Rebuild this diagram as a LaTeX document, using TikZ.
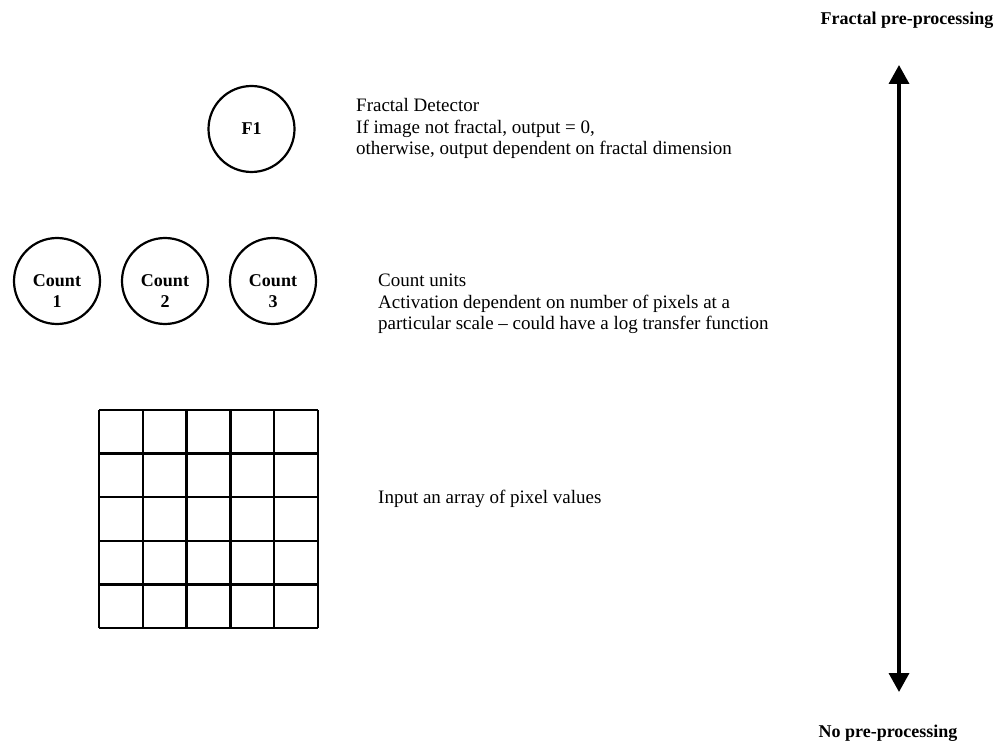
\documentclass[tikz,border=0pt]{standalone}
\usepackage{fontspec}
\setmainfont{Liberation Serif}
\usetikzlibrary{arrows.meta}
\tikzset{>={Triangle[width=20pt,length=19pt]},every node/.style={font=\fontsize{19}{21.5}\selectfont},
unit/.style={draw,circle,line width=2.2pt,minimum size=86pt,inner sep=0pt},
bold/.style={font=\fontsize{18}{21.5}\selectfont\bfseries,align=center},
note/.style={anchor=base west,align=left,inner sep=0pt},prescale/.style={line width=3.5pt,<->}}

\begin{document}
\begin{tikzpicture}[x=1pt,y=-1pt]
\useasboundingbox (0,0) rectangle (996,743);
% units
\node[unit,bold] (f1) at (251.5,129){F1};
\foreach \n/\x in {1/57,2/165,3/273}{\node[unit] (count\n) at (\x,281){};
\node[bold,yshift=-10pt] (countlabel\n) at (count\n){Count\\\n};}
% input array
\foreach \i in {0,...,5}{\draw[line width=2.4pt] (99+43.8*\i,410)--(99+43.8*\i,628);\draw[line width=2.4pt] (99,410+43.6*\i)--(318,410+43.6*\i);}
% notes
\node[note] (fd) at (356,155){Fractal Detector\\If image not fractal, output = 0,\\otherwise, output dependent on fractal dimension};
\node[note] (cu) at (378,330){Count units\\Activation dependent on number of pixels at a\\particular scale -- could have a log transfer function};
\node[note] (in) at (378,503){Input an array of pixel values};
% scale
\node[bold,anchor=base] (fp) at (907,25){Fractal pre-processing};
\node[bold,anchor=base] (np) at (888,737){No pre-processing};
\coordinate (top) at (899,65);\coordinate (bot) at (899,692);
\draw[prescale] (bot)--(top);
\end{tikzpicture}
\end{document}
